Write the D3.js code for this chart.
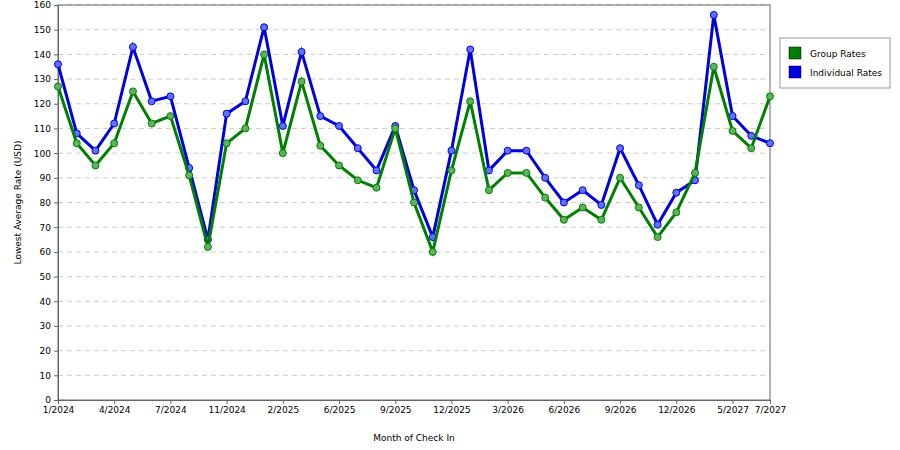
<!DOCTYPE html><html><head><meta charset="utf-8">
<script src="https://cdn.jsdelivr.net/npm/d3@7"></script>
<style>body{margin:0;background:#fff}text{font-family:"DejaVu Sans",sans-serif}</style></head><body>
<svg id="c" width="900" height="450"></svg>
<script>
const categories=["1/2024","2/2024","3/2024","4/2024","5/2024","6/2024","7/2024","8/2024","9/2024","11/2024","12/2024","1/2025","2/2025","3/2025","4/2025","6/2025","7/2025","8/2025","9/2025","10/2025","11/2025","12/2025","1/2026","2/2026","3/2026","4/2026","5/2026","6/2026","7/2026","8/2026","9/2026","10/2026","11/2026","12/2026","1/2027","2/2027","5/2027","6/2027","7/2027"];
const groupRates=[127,104,95,104,125,112,115,91,62,104,110,140,100,129,103,95,89,86,110,80,60,93,121,85,92,92,82,73,78,73,90,78,66,76,92,135,109,102,123];
const individualRates=[136,108,101,112,143,121,123,94,65,116,121,151,111,141,115,111,102,93,111,85,66,101,142,93,101,101,90,80,85,79,102,87,71,84,89,156,115,107,104];
const tickLabels=["1/2024","4/2024","7/2024","11/2024","2/2025","6/2025","9/2025","12/2025","3/2026","6/2026","9/2026","12/2026","5/2027","7/2027"];
const yTicks=d3.range(0,161,10);
const svg=d3.select("#c");
const L=58,R=770,T=5,B=400;
const x=d3.scalePoint().domain(categories).range([L,R]);
const y=d3.scaleLinear().domain([0,160]).range([B,T]);
svg.append("g").selectAll("line").data(yTicks.slice(1)).join("line")
 .attr("x1",L).attr("x2",R).attr("y1",d=>y(d)).attr("y2",d=>y(d))
 .attr("stroke","#ccc").attr("stroke-dasharray","5,4");
svg.append("rect").attr("x",L).attr("y",T).attr("width",R-L).attr("height",B-T).attr("fill","none").attr("stroke","#666");
const ya=svg.append("g").attr("transform",`translate(${L},0)`).call(d3.axisLeft(y).tickValues(yTicks).tickSize(4).tickFormat(d3.format("d")));
const xa=svg.append("g").attr("transform",`translate(0,${B})`).call(d3.axisBottom(x).tickValues(tickLabels).tickSize(4));
[ya,xa].forEach(a=>{a.selectAll("text").attr("font-size",9).attr("fill","#000");a.select(".domain").attr("stroke","#666");a.selectAll(".tick line").attr("stroke","#666");});
svg.append("text").attr("x",(L+R)/2).attr("y",441).attr("text-anchor","middle").attr("font-size",9).text("Month of Check In");
svg.append("text").attr("transform",`translate(21,${(T+B)/2}) rotate(-90)`).attr("text-anchor","middle").attr("font-size",9).text("Lowest Average Rate (USD)");
const series=[{name:"Group Rates",v:groupRates,c:"#008000",f:"#60b060"},{name:"Individual Rates",v:individualRates,c:"#0000e0",f:"#6070ff"}];
const line=d3.line().x((d,i)=>x(categories[i])).y(d=>y(d));
series.slice().reverse().forEach(s=>{
 svg.append("path").datum(s.v).attr("d",line).attr("fill","none").attr("stroke",s.c).attr("stroke-width",3);
 svg.append("g").selectAll("circle").data(s.v).join("circle").attr("cx",(d,i)=>x(categories[i])).attr("cy",d=>y(d)).attr("r",3.5).attr("fill",s.f).attr("stroke",s.c).attr("stroke-width",1);
});
const lg=svg.append("g");
lg.append("rect").attr("x",780).attr("y",38).attr("width",110).attr("height",50).attr("fill","#fff").attr("stroke","#999");
series.forEach((s,i)=>{
 lg.append("rect").attr("x",789).attr("y",47+i*19).attr("width",12).attr("height",12).attr("fill",s.c).attr("stroke","#000").attr("stroke-width",0.5);
 lg.append("text").attr("x",810).attr("y",57+i*19).attr("font-size",9).text(s.name);
});
</script></body></html>
